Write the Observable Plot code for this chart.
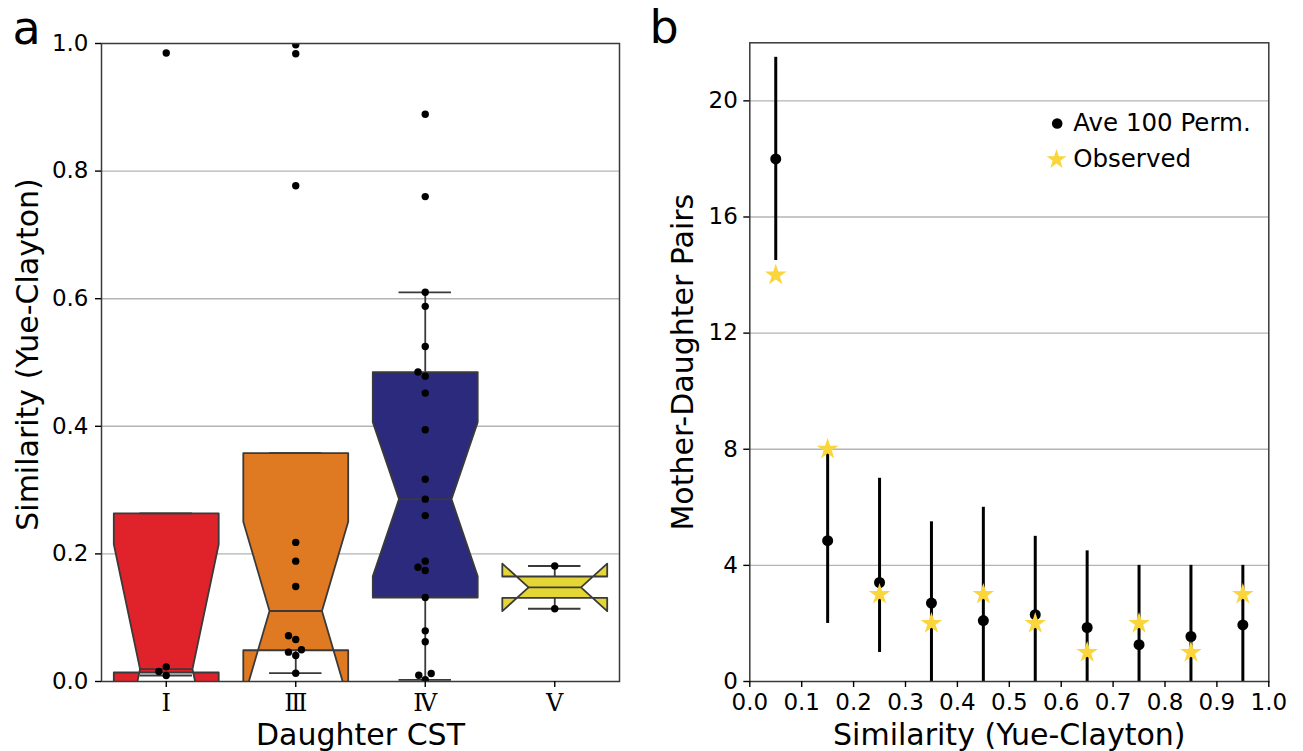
<!DOCTYPE html>
<html>
<head>
<meta charset="utf-8">
<script src="https://cdn.jsdelivr.net/npm/d3@7"></script>
<script src="https://cdn.jsdelivr.net/npm/@observablehq/plot@0.6"></script>
<style>
  body { margin: 0; background: #fff; }
  #wrap { position: relative; width: 1303px; height: 751px; overflow: hidden; }
  #pa, #pb { position: absolute; top: 0; }
  #pa { left: 0; }
  #pb { left: 640px; }
</style>
</head>
<body>
<div id="wrap"><div id="pa"></div><div id="pb"></div></div>
<script>
// ---------- Panel a data ----------
const cstLabels = ["Ⅰ", "Ⅲ", "Ⅳ", "Ⅴ"];
const boxColors = ["#e0232a", "#e07a22", "#2b2a7c", "#e4d634"];
const q1        = [0.0141, 0.0490, 0.1317, 0.1310];
const medians   = [0.0194, 0.1105, 0.2858, 0.1475];
const q3        = [0.2635, 0.3580, 0.4850, 0.1646];
const notchLo   = [-0.1764, -0.0295, 0.1650, 0.1103];
const notchHi   = [0.2152, 0.2505, 0.4065, 0.1847];
const whiskerLo = [0.0094, 0.0130, 0.0027, 0.1140];
const whiskerHi = [0.2635, 0.3580, 0.6100, 0.1810];

const simI   = [0.985, 0.023, 0.0157, 0.0094];
const simIII = [0.998, 0.984, 0.777, 0.218, 0.1886, 0.149, 0.0716, 0.0658, 0.0497, 0.046, 0.0408, 0.013];
const simIV  = [0.889, 0.760, 0.610, 0.588, 0.525, 0.485, 0.4786, 0.452, 0.3945, 0.317, 0.2858, 0.260, 0.1886, 0.179, 0.174, 0.1317, 0.0794, 0.0622, 0.0125, 0.0099, 0.0027];
const simV   = [0.181, 0.114];
// strip jitter (fraction of a category band)
const jitI   = [0, 0, -0.057, 0];
const jitIII = [0, 0, 0, 0, 0, 0, -0.056, 0, 0.044, -0.056, 0, 0];
const jitIV  = [0, 0, 0, 0, 0, -0.056, 0, 0, 0, 0, 0, 0, 0, -0.056, 0, 0, 0, 0, 0.046, -0.05, 0];
const jitV   = [0, 0];
const yTicksA = [0, 0.2, 0.4, 0.6, 0.8, 1.0];
const yGridA  = [0.2, 0.4, 0.6, 0.8];

// ---------- Panel b data ----------
const binCenters = [0.05, 0.15, 0.25, 0.35, 0.45, 0.55, 0.65, 0.75, 0.85, 0.95];
const permMean   = [18.0, 4.85, 3.41, 2.70, 2.10, 2.30, 1.86, 1.27, 1.55, 1.95];
const permLow    = [14.5, 2, 1, 0, 0, 0, 0, 0, 0, 0];
const permHigh   = [21.5, 8, 7, 5.5, 6, 5, 4.5, 4, 4, 4];
const observed   = [14, 8, 3, 2, 3, 2, 1, 2, 1, 3];
const xTicksB = [0, 0.1, 0.2, 0.3, 0.4, 0.5, 0.6, 0.7, 0.8, 0.9, 1.0];
const yTicksB = [0, 4, 8, 12, 16, 20];
const yGridB  = [4, 8, 12, 16, 20];

// ---------- styles ----------
const EDGE = "#3a3a3a";
const GRID = "#b4b4b4";
const HALF = 0.405;   // half box width (band units)
const LABEL = 30;
const style = {fontFamily: "'DejaVu Sans', sans-serif", fontSize: "23px", color: "#000", background: "transparent", overflow: "visible"};

// ---------- Panel a ----------
const stats = cstLabels.map((c, i) => ({
  i, c, q1: q1[i], med: medians[i], q3: q3[i], nlo: notchLo[i], nhi: notchHi[i], wlo: whiskerLo[i], whi: whiskerHi[i]
}));
function boxPath(s) {
  const L = s.i - HALF, R = s.i + HALF, CL = s.i - HALF / 2, CR = s.i + HALF / 2;
  return [[L, s.q1], [R, s.q1], [R, s.nlo], [CR, s.med], [R, s.nhi], [R, s.q3],
          [L, s.q3], [L, s.nhi], [CL, s.med], [L, s.nlo], [L, s.q1]].map(([x, y]) => ({x, y}));
}
const pts = [];
[[simI, jitI], [simIII, jitIII], [simIV, jitIV], [simV, jitV]].forEach(([vals, jit], i) => {
  vals.forEach((v, k) => pts.push({i, v, j: jit[k]}));
});

const plotA = Plot.plot({
  width: 640, height: 751,
  marginLeft: 101, marginRight: 21, marginTop: 43, marginBottom: 70,
  x: {domain: [-0.5, 3.5]},
  y: {domain: [0, 1]},
  style,
  marks: [
    Plot.gridY(yGridA, {stroke: GRID, strokeOpacity: 1, strokeWidth: 1.4}),
    ...stats.map(s => Plot.line(boxPath(s), {x: "x", y: "y", fill: boxColors[s.i], stroke: EDGE, strokeWidth: 1.8, clip: true})),
    Plot.ruleY(stats, {y: "med", x1: d => d.i - HALF / 2, x2: d => d.i + HALF / 2, stroke: EDGE, strokeWidth: 1.8}),
    Plot.ruleX(stats, {x: "i", y1: "q3", y2: "whi", stroke: EDGE, strokeWidth: 1.8}),
    Plot.ruleX(stats, {x: "i", y1: "q1", y2: "wlo", stroke: EDGE, strokeWidth: 1.8}),
    Plot.ruleY(stats, {y: "whi", x1: d => d.i - HALF / 2, x2: d => d.i + HALF / 2, stroke: EDGE, strokeWidth: 1.8}),
    Plot.ruleY(stats, {y: "wlo", x1: d => d.i - HALF / 2, x2: d => d.i + HALF / 2, stroke: EDGE, strokeWidth: 1.8}),
    Plot.dot(pts, {x: d => d.i + d.j, y: "v", r: 3.7, fill: "#000", clip: true}),
    Plot.frame({stroke: EDGE, strokeWidth: 1.5}),
    Plot.axisY(yTicksA, {tickFormat: d3.format(".1f"), tickSize: 6, tickPadding: 7, fontSize: 23, strokeWidth: 1.4, label: null}),
    Plot.axisX([0, 1, 2, 3], {tickFormat: i => cstLabels[i], tickSize: 6, tickPadding: 6, fontSize: 24, fontFamily: "'DejaVu Serif', 'Noto Sans CJK JP', serif", strokeWidth: 1.4, label: null}),
    Plot.text(["Similarity (Yue-Clayton)"], {frameAnchor: "left", dx: -73, dy: -8, rotate: -90, textAnchor: "middle", lineAnchor: "middle", fontSize: LABEL}),
    Plot.text(["Daughter CST"], {frameAnchor: "bottom", dy: 63, textAnchor: "middle", lineAnchor: "bottom", fontSize: LABEL}),
    Plot.text(["a"], {frameAnchor: "top-left", dx: -89, dy: 0, textAnchor: "start", lineAnchor: "bottom", fontSize: 46})
  ]
});
document.getElementById("pa").appendChild(plotA);

// ---------- Panel b ----------
const rowsB = binCenters.map((x, k) => ({x, mean: permMean[k], lo: permLow[k], hi: permHigh[k], obs: observed[k]}));
const STAR = "#fad63c";
const plotB = Plot.plot({
  width: 663, height: 751,
  marginLeft: 109.3, marginRight: 34.7, marginTop: 42.3, marginBottom: 70,
  x: {domain: [0, 1]},
  y: {domain: [0, 22]},
  style,
  marks: [
    Plot.gridY(yGridB, {stroke: GRID, strokeOpacity: 1, strokeWidth: 1.4}),
    Plot.ruleX(rowsB, {x: "x", y1: "lo", y2: "hi", stroke: "#000", strokeWidth: 3}),
    Plot.dot(rowsB, {x: "x", y: "mean", r: 5.5, fill: "#000"}),
    Plot.dot(rowsB, {x: "x", y: "obs", r: 6.8, symbol: "star", fill: STAR}),
    Plot.frame({stroke: EDGE, strokeWidth: 1.5}),
    Plot.axisY(yTicksB, {tickSize: 6, tickPadding: 6, fontSize: 23, strokeWidth: 1.4, label: null}),
    Plot.axisX(xTicksB, {tickFormat: d3.format(".1f"), tickSize: 6, tickPadding: 6, fontSize: 23, strokeWidth: 1.4, label: null}),
    // legend
    Plot.dot(["Ave 100 Perm."], {frameAnchor: "top-left", dx: 307.4, dy: 80.7, r: 5.3, fill: "#000"}),
    Plot.dot(["Observed"], {frameAnchor: "top-left", dx: 306.7, dy: 116.7, r: 6.3, symbol: "star", fill: STAR}),
    Plot.text(["Ave 100 Perm."], {frameAnchor: "top-left", dx: 323.4, dy: 80.7, textAnchor: "start", lineAnchor: "middle", fontSize: 24.5}),
    Plot.text(["Observed"], {frameAnchor: "top-left", dx: 323.4, dy: 116.7, textAnchor: "start", lineAnchor: "middle", fontSize: 24.5}),
    Plot.text(["Mother-Daughter Pairs"], {frameAnchor: "left", dx: -66, dy: 0, rotate: -90, textAnchor: "middle", lineAnchor: "middle", fontSize: LABEL}),
    Plot.text(["Similarity (Yue-Clayton)"], {frameAnchor: "bottom", dy: 63, textAnchor: "middle", lineAnchor: "bottom", fontSize: LABEL}),
    Plot.text(["b"], {frameAnchor: "top-left", dx: -100.3, dy: 0, textAnchor: "start", lineAnchor: "bottom", fontSize: 46})
  ]
});
document.getElementById("pb").appendChild(plotB);
</script>
</body>
</html>
